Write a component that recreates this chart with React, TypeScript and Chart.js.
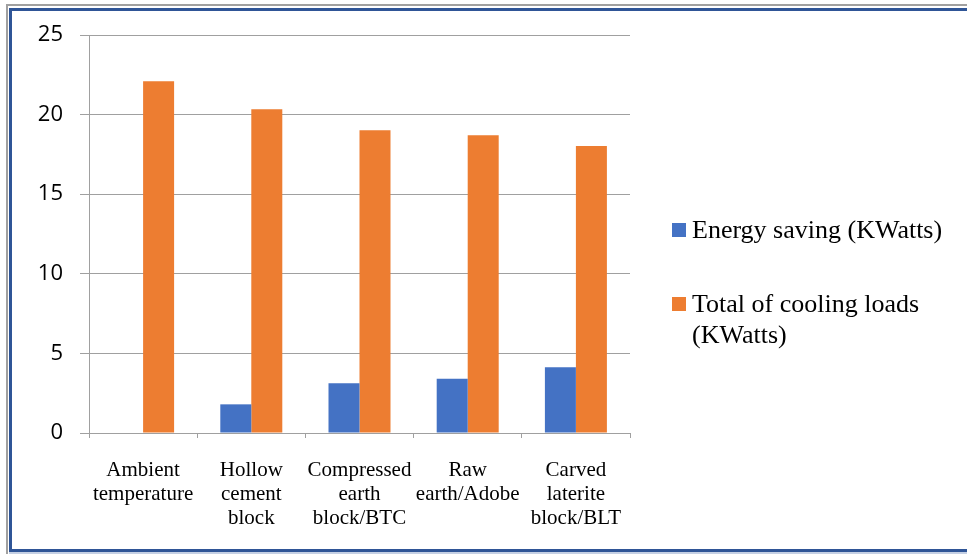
import React, { useEffect, useRef } from "react";
import { Chart, registerables } from "chart.js";

Chart.register(...registerables);

const categories: string[][] = [
  ["Ambient", "temperature"],
  ["Hollow", "cement", "block"],
  ["Compressed", "earth", "block/BTC"],
  ["Raw", "earth/Adobe"],
  ["Carved", "laterite", "block/BLT"],
];
const seriesNames = ["Energy saving (KWatts)", "Total of cooling loads (KWatts)"];
const energySaving = [0, 1.8, 3.12, 3.41, 4.13];
const coolingLoads = [22.1, 20.33, 19.01, 18.7, 18.03];
const seriesColors = ["#4472C4", "#ED7D31"];
const yMin = 0;
const yMax = 25;
const yStep = 5;

const W = 967;
const H = 554;

export default function App() {
  const ref = useRef<HTMLCanvasElement | null>(null);

  useEffect(() => {
    if (!ref.current) return;
    const chart = new Chart(ref.current, {
      type: "bar",
      data: {
        labels: categories,
        datasets: [
          {
            label: seriesNames[0],
            data: energySaving,
            backgroundColor: seriesColors[0],
            borderWidth: 0,
            categoryPercentage: 0.573,
            barPercentage: 1,
          },
          {
            label: seriesNames[1],
            data: coolingLoads,
            backgroundColor: seriesColors[1],
            borderWidth: 0,
            categoryPercentage: 0.573,
            barPercentage: 1,
          },
        ],
      },
      options: {
        responsive: false,
        animation: false,
        devicePixelRatio: 1,
        layout: { padding: { top: 35, right: 337, bottom: 0, left: 0 } },
        plugins: {
          legend: { display: false },
          tooltip: { enabled: false },
        },
        scales: {
          x: {
            grid: {
              display: true,
              offset: true,
              drawOnChartArea: false,
              drawTicks: true,
              tickLength: 5,
              color: "#a0a0a0",
            },
            border: { display: true, color: "#a0a0a0" },
            ticks: {
              color: "#000",
              padding: 21,
              maxRotation: 0,
              autoSkip: false,
              font: { family: "'Liberation Serif', 'Times New Roman', serif", size: 21, lineHeight: 1.13 },
            },
            afterFit: (scale: any) => {
              scale.height = 121;
            },
          },
          y: {
            min: yMin,
            max: yMax,
            grid: {
              color: "#a0a0a0",
              tickLength: 9,
              drawTicks: true,
            },
            border: { display: true, color: "#a0a0a0" },
            ticks: {
              stepSize: yStep,
              color: "#000",
              padding: 17,
              font: { family: "'Open Sans', 'Liberation Sans', sans-serif", size: 22 },
            },
            afterFit: (scale: any) => {
              scale.width = 89;
            },
          },
        },
      },
    });
    return () => chart.destroy();
  }, []);

  const line = (s: React.CSSProperties) => (
    <div style={{ position: "absolute", ...s }} />
  );

  const legendText: React.CSSProperties = {
    position: "absolute",
    left: 692,
    width: 268,
    fontFamily: "'Liberation Serif', 'Times New Roman', serif",
    fontSize: 26,
    lineHeight: "31px",
    color: "#000",
    whiteSpace: "normal",
  };

  return (
    <div style={{ position: "absolute", left: 0, top: 0, width: W, height: H, background: "#fff", overflow: "hidden" }}>
      <canvas ref={ref} width={W} height={H} style={{ position: "absolute", left: 0, top: 0, width: W, height: H }} />
      {line({ left: 6, top: 4, width: W - 6, height: 2, background: "#a0a0a0" })}
      {line({ left: 6, top: 4, width: 2, height: H - 4, background: "#a0a0a0" })}
      {line({ left: 9, top: 8, width: W - 9, height: 3, background: "#2f5597" })}
      {line({ left: 9, top: 8, width: 3, height: 544, background: "#2f5597" })}
      {line({ left: 9, top: 549, width: W - 9, height: 3, background: "#2f5597" })}
      {line({ left: 9, top: 552, width: W - 9, height: 2, background: "#c5d0e4" })}

      <div style={{ position: "absolute", left: 672, top: 223, width: 14, height: 14, background: seriesColors[0] }} />
      <div style={{ ...legendText, top: 214 }}>{seriesNames[0]}</div>
      <div style={{ position: "absolute", left: 672, top: 297, width: 14, height: 14, background: seriesColors[1] }} />
      <div style={{ ...legendText, top: 288 }}>{seriesNames[1]}</div>
    </div>
  );
}
